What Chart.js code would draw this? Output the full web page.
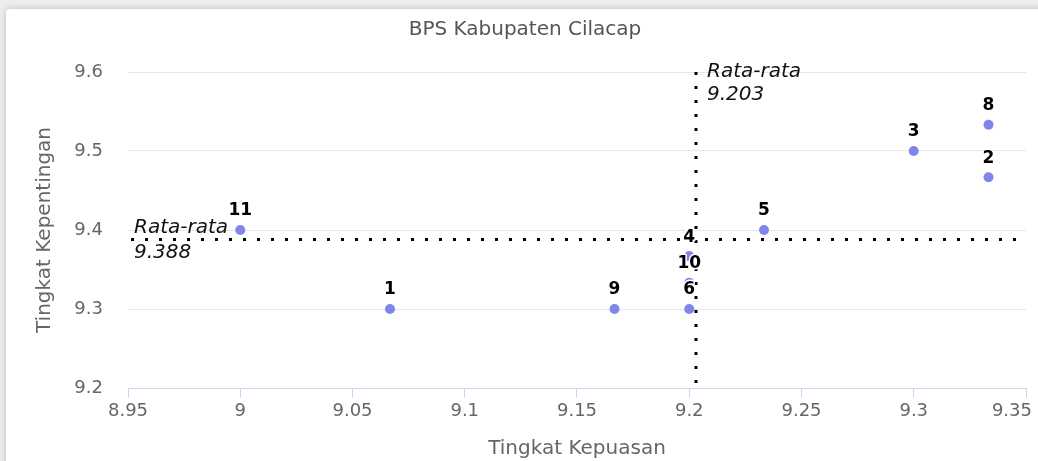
<!DOCTYPE html>
<html>
<head>
<meta charset="utf-8">
<script src="https://cdn.jsdelivr.net/npm/chart.js@4/dist/chart.umd.min.js"></script>
<style>
  html, body { margin: 0; padding: 0; width: 1038px; height: 461px; overflow: hidden; background: #eeeeee; }
  #card { position: absolute; left: 6px; top: 9px; width: 1060px; height: 480px; background: #fff;
          border-radius: 4px; box-shadow: 0 0 7px rgba(0,0,0,0.22); }
  #c { position: absolute; left: 0; top: 0; }
</style>
</head>
<body>
<div id="card"></div>
<canvas id="c" width="1038" height="461"></canvas>
<script>
const chartTitle = 'BPS Kabupaten Cilacap';
const pointLabels = ['1', '2', '3', '4', '5', '6', '7', '8', '9', '10', '11'];
const kepuasan    = [9.0667, 9.3333, 9.3, 9.2, 9.2333, 9.2, 9.2, 9.3333, 9.1667, 9.2, 9.0];
const kepentingan = [9.3, 9.4667, 9.5, 9.3667, 9.4, 9.3, 9.3667, 9.5333, 9.3, 9.3333, 9.4];
const avgKepuasan = 9.203;
const avgKepentingan = 9.388;
const xTicks = { min: 8.95, max: 9.35, step: 0.05 };
const yTicks = { min: 9.2, max: 9.6, step: 0.1 };

Chart.defaults.font.family = '"DejaVu Sans", sans-serif';

const points = kepuasan.map((x, i) => ({ x: x, y: kepentingan[i] }));

const fmt = v => String(+Number(v).toFixed(2));

const overlayPlugin = {
  id: 'overlay',
  afterDraw(chart) {
    const { ctx } = chart;
    ctx.save();
    ctx.font = '20px "DejaVu Sans", sans-serif';
    ctx.fillStyle = '#555555';
    ctx.textAlign = 'center';
    ctx.textBaseline = 'middle';
    ctx.fillText(chartTitle, 525, 30);
    ctx.restore();
  },
  afterDatasetsDraw(chart) {
    const { ctx, chartArea: a, scales: { x, y } } = chart;
    const px = x.getPixelForValue(avgKepuasan);
    const py = y.getPixelForValue(avgKepentingan);
    ctx.save();
    ctx.strokeStyle = '#000';
    ctx.lineWidth = 3;
    ctx.setLineDash([3, 11]);
    ctx.beginPath();
    ctx.moveTo(px, a.top);
    ctx.lineTo(px, a.bottom);
    ctx.stroke();
    ctx.beginPath();
    ctx.moveTo(a.left + 3, py);
    ctx.lineTo(a.right, py);
    ctx.stroke();
    ctx.setLineDash([]);

    ctx.font = 'italic 20px "DejaVu Sans", sans-serif';
    ctx.fillStyle = '#111111';
    ctx.textAlign = 'left';
    ctx.textBaseline = 'alphabetic';
    ctx.fillText('Rata-rata', px + 11, a.top + 5);
    ctx.fillText(String(avgKepuasan), px + 11, a.top + 28);
    ctx.fillText('Rata-rata', a.left + 6, py - 6);
    ctx.fillText(String(avgKepentingan), a.left + 6, py + 19);

    // data labels
    const meta = chart.getDatasetMeta(0);
    ctx.font = 'bold 17px "DejaVu Sans", sans-serif';
    ctx.textAlign = 'center';
    ctx.textBaseline = 'middle';
    ctx.lineJoin = 'round';
    const boxes = [];
    meta.data.forEach((el, i) => {
      const t = pointLabels[i];
      const cx = el.x, cy = el.y - 19;
      const w = ctx.measureText(t).width + 4, h = 18;
      const box = { l: cx - w / 2, r: cx + w / 2, t: cy - h / 2, b: cy + h / 2 };
      if (boxes.some(b => !(box.r <= b.l || box.l >= b.r || box.b <= b.t || box.t >= b.b))) return;
      boxes.push(box);
      ctx.strokeStyle = '#ffffff';
      ctx.lineWidth = 3;
      ctx.strokeText(t, cx, cy);
      ctx.fillStyle = '#000000';
      ctx.fillText(t, cx, cy);
    });
    ctx.restore();
  }
};

// keep the last x tick label inside the canvas (justified like the original)
function justifyLastLabel(scale) {
  if (scale._justifyPatched) return;
  scale._justifyPatched = true;
  const orig = scale._computeLabelItems.bind(scale);
  scale._computeLabelItems = function (ca) {
    const items = orig(ca);
    const last = items[items.length - 1];
    if (last && last.options) {
      const tr = last.options.translation;
      last.options = Object.assign({}, last.options, {
        textAlign: 'right',
        translation: [Math.min(tr[0] + 20, scale.chart.width - 6), tr[1]]
      });
    }
    return items;
  };
}

new Chart(document.getElementById('c'), {
  type: 'scatter',
  data: {
    datasets: [{
      data: points,
      backgroundColor: '#8085e9',
      borderColor: '#8085e9',
      borderWidth: 0,
      pointRadius: 5,
      pointHoverRadius: 5
    }]
  },
  options: {
    responsive: false,
    animation: false,
    events: [],
    layout: { padding: { left: 0, right: 12, top: 72, bottom: 0 } },
    plugins: {
      legend: { display: false },
      tooltip: { enabled: false },
      title: { display: false }
    },
    scales: {
      x: {
        type: 'linear',
        min: xTicks.min,
        max: xTicks.max,
        afterFit(s) { s.height = 73; s.paddingLeft = 0; s.paddingRight = 0; },
        afterUpdate(s) { justifyLastLabel(s); },
        ticks: { stepSize: xTicks.step, color: '#666666', font: { size: 18 }, padding: 3,
                 maxRotation: 0, autoSkip: false, callback: v => fmt(v) },
        grid: { display: true, drawOnChartArea: false, drawTicks: true, tickLength: 10, color: '#ccd6eb', lineWidth: 1 },
        border: { display: true, color: '#ccd6eb', width: 1 },
        title: { display: true, text: 'Tingkat Kepuasan', color: '#666666', font: { size: 20 }, padding: { top: 0, bottom: 0 } }
      },
      y: {
        type: 'linear',
        min: yTicks.min,
        max: yTicks.max,
        afterFit(s) { s.width = 128; s.paddingTop = 0; s.paddingBottom = 0; },
        ticks: { stepSize: yTicks.step, color: '#666666', font: { size: 18 }, padding: 25, callback: v => fmt(v) },
        grid: { color: '#e6e6e6', lineWidth: 1, drawTicks: false },
        border: { display: false },
        title: { display: true, text: 'Tingkat Kepentingan', color: '#666666', font: { size: 20 }, padding: { top: 33, bottom: 0 } }
      }
    }
  },
  plugins: [overlayPlugin]
});
</script>
</body>
</html>
